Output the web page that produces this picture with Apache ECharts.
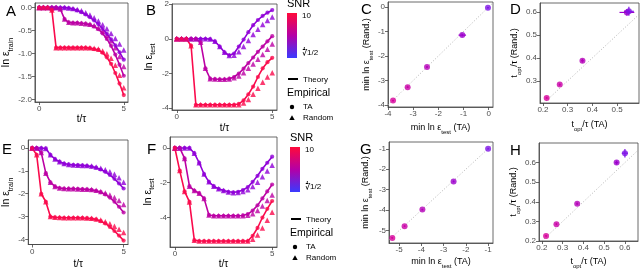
<!DOCTYPE html>
<html><head><meta charset="utf-8">
<script src="https://cdn.jsdelivr.net/npm/echarts@6.0.0/dist/echarts.min.js"></script>
<style>html,body{margin:0;padding:0;background:#fff}#c{width:640px;height:270px}</style>
</head><body><div id="c"></div><script>
// ---- data ----
const T = [0,0.25,0.5,0.75,1,1.25,1.5,1.75,2,2.25,2.5,2.75,3,3.25,3.5,3.75,4,4.25,4.5,4.75,5];

const trainA_red_TA = [0,0,0,-0.05,-0.87,-0.87,-0.87,-0.87,-0.87,-0.87,-0.87,-0.87,-0.88,-0.9,-0.92,-0.98,-1.08,-1.22,-1.42,-1.65,-1.9];
const trainA_red_R  = [0,0,0,-0.05,-0.87,-0.87,-0.87,-0.87,-0.87,-0.87,-0.87,-0.87,-0.87,-0.88,-0.9,-0.94,-1.0,-1.1,-1.25,-1.47,-1.74];
const trainA_mag_TA = [0,0,0,0,0,-0.03,-0.25,-0.32,-0.33,-0.33,-0.34,-0.35,-0.37,-0.41,-0.47,-0.56,-0.68,-0.83,-1.02,-1.24,-1.48];
const trainA_mag_R  = [0,0,0,0,0,-0.03,-0.25,-0.32,-0.33,-0.33,-0.34,-0.35,-0.36,-0.39,-0.44,-0.51,-0.6,-0.72,-0.87,-1.06,-1.28];
const trainA_pur_TA = [0,0,0,0,0,0,0,-0.01,-0.03,-0.06,-0.1,-0.15,-0.21,-0.28,-0.36,-0.46,-0.57,-0.69,-0.82,-0.97,-1.13];
const trainA_pur_R  = [0,0,0,0,0,0,0,-0.01,-0.02,-0.04,-0.07,-0.11,-0.16,-0.22,-0.29,-0.37,-0.46,-0.56,-0.67,-0.79,-0.92];

const testB_red_TA = [0,0,0,-0.4,-3.8,-3.8,-3.8,-3.8,-3.8,-3.8,-3.8,-3.8,-3.8,-3.75,-3.55,-3.2,-2.75,-2.2,-1.7,-1.35,-1.1];
const testB_red_R  = [0,0,0,-0.4,-3.8,-3.8,-3.8,-3.8,-3.8,-3.8,-3.8,-3.8,-3.8,-3.8,-3.7,-3.5,-3.2,-2.85,-2.5,-2.2,-1.95];
const testB_mag_TA = [0,0,0,0,0,-0.2,-1.7,-2.3,-2.32,-2.33,-2.33,-2.3,-2.2,-2.0,-1.72,-1.4,-1.08,-0.75,-0.45,-0.15,0.15];
const testB_mag_R  = [0,0,0,0,0,-0.2,-1.7,-2.3,-2.32,-2.33,-2.33,-2.32,-2.25,-2.15,-1.95,-1.7,-1.45,-1.18,-0.9,-0.6,-0.3];
const testB_pur_TA = [0,0,0,0,0,0,0,-0.02,-0.15,-0.45,-0.78,-0.95,-0.85,-0.45,-0.05,0.38,0.78,1.08,1.32,1.5,1.65];
const testB_pur_R  = [0,0,0,0,0,0,0,-0.02,-0.15,-0.45,-0.78,-0.97,-0.95,-0.75,-0.45,-0.1,0.25,0.55,0.82,1.05,1.25];

const trainE_red_TA = [0,-0.3,-2.0,-2.35,-3.0,-3.03,-3.04,-3.05,-3.05,-3.05,-3.05,-3.06,-3.07,-3.09,-3.12,-3.2,-3.3,-3.45,-3.63,-3.83,-4.05];
const trainE_red_R  = [0,-0.3,-2.0,-2.35,-3.0,-3.03,-3.04,-3.05,-3.05,-3.05,-3.05,-3.05,-3.06,-3.07,-3.1,-3.15,-3.22,-3.31,-3.42,-3.55,-3.7];
const trainE_mag_TA = [0,0,-0.2,-1.1,-1.5,-1.68,-1.75,-1.77,-1.78,-1.78,-1.79,-1.8,-1.81,-1.83,-1.87,-1.93,-2.03,-2.17,-2.35,-2.57,-2.82];
const trainE_mag_R  = [0,0,-0.2,-1.1,-1.5,-1.68,-1.75,-1.77,-1.78,-1.78,-1.79,-1.8,-1.8,-1.82,-1.85,-1.9,-1.97,-2.06,-2.17,-2.3,-2.47];
const trainE_pur_TA = [0,0,0,-0.02,-0.3,-0.48,-0.6,-0.68,-0.72,-0.74,-0.75,-0.76,-0.78,-0.81,-0.86,-0.94,-1.04,-1.18,-1.35,-1.55,-1.77];
const trainE_pur_R  = [0,0,0,-0.02,-0.3,-0.48,-0.6,-0.68,-0.72,-0.74,-0.75,-0.76,-0.77,-0.79,-0.83,-0.88,-0.95,-1.04,-1.15,-1.3,-1.5];

const testF_red_TA = [0,-1.3,-2.5,-3.1,-5.3,-5.35,-5.35,-5.35,-5.35,-5.35,-5.35,-5.35,-5.35,-5.35,-5.35,-5.35,-5.05,-4.6,-4.0,-3.5,-3.05];
const testF_red_R  = [0,-1.3,-2.5,-3.1,-5.3,-5.35,-5.35,-5.35,-5.35,-5.35,-5.35,-5.35,-5.35,-5.35,-5.35,-5.35,-5.25,-5.0,-4.6,-4.15,-3.7];
const testF_mag_TA = [0,0,-0.6,-2.2,-2.45,-2.6,-2.9,-3.85,-3.9,-3.9,-3.9,-3.9,-3.9,-3.9,-3.88,-3.8,-3.6,-3.3,-2.9,-2.5,-2.1];
const testF_mag_R  = [0,0,-0.6,-2.2,-2.45,-2.6,-2.9,-3.85,-3.9,-3.9,-3.9,-3.9,-3.9,-3.9,-3.9,-3.87,-3.78,-3.6,-3.33,-3.02,-2.7];
const testF_pur_TA = [0,0,0,0,-0.3,-0.85,-1.5,-1.95,-2.2,-2.35,-2.45,-2.52,-2.55,-2.52,-2.42,-2.25,-1.95,-1.6,-1.2,-0.85,-0.5];
const testF_pur_R  = [0,0,0,0,-0.3,-0.85,-1.5,-1.95,-2.2,-2.35,-2.45,-2.53,-2.57,-2.56,-2.5,-2.4,-2.22,-1.97,-1.65,-1.32,-1.0];

const cTA   = [-3.8,-3.22,-2.45,-1.05,-0.03];
const cRand = [-3.82,-3.27,-2.45,-1.15,-0.03];
const cErrX = [0.04,0.04,0.04,0.15,0.03];
const cErrY = [0.04,0.04,0.04,0.06,0.03];

const dTA   = [0.215,0.268,0.36,0.54,0.548];
const dRand = [0.226,0.284,0.388,0.598,0.603];
const dErrX = [0.004,0.004,0.006,0.03,0.02];
const dErrY = [0.004,0.005,0.008,0.015,0.02];

const gTA   = [-5.3,-4.75,-3.95,-2.55,-1.0];
const gRand = [-5.35,-4.78,-3.97,-2.6,-1.0];
const gErrX = [0.04,0.04,0.04,0.04,0.03];
const gErrY = [0.04,0.04,0.04,0.04,0.03];

const hTA   = [0.22,0.27,0.37,0.56,0.60];
const hRand = [0.226,0.286,0.39,0.60,0.648];
const hErrX = [0.004,0.004,0.005,0.008,0.015];
const hErrY = [0.004,0.005,0.006,0.01,0.022];

const ptColors = ['#D6009A','#C800A6','#B400B8','#9C00CC','#7E14E6'];
const RED = '#FA0A4C', MAG = '#BC00A4', PUR = '#9000D8';

const ticksT = [0,5];
const ticksA = [0,-0.5,-1,-1.5,-2];
const ticksB = [2,0,-2,-4];
const ticksC = [-4,-3,-2,-1,0];
const ticksDx = [0.2,0.3,0.4,0.5];
const ticksDy = [0.3,0.4,0.5,0.6];
const ticksE = [0,-1,-2,-3,-4];
const ticksF = [0,-2,-4];
const ticksG = [-5,-4,-3,-2,-1];
const ticksH = [0.2,0.3,0.4,0.5,0.6];

// ---- chart ----
const FF = '"Liberation Sans", Arial, sans-serif';
const chart = echarts.init(document.getElementById('c'), null, {renderer:'canvas'});

const grids = [
  {left:31, top:3, width:97, height:99},
  {left:172, top:3, width:105, height:107},
  {left:388, top:2, width:105, height:105},
  {left:540, top:3, width:99, height:100},
  {left:25, top:140, width:103, height:108},
  {left:170, top:137, width:107, height:113},
  {left:389, top:142, width:104, height:105},
  {left:539, top:143, width:99, height:99}
].map(g => Object.assign({show:true, borderColor:'#444', borderWidth:0.8, backgroundColor:'#fff'}, g));

function richOf(fs) {
  return {
    b:{fontSize:fs, lineHeight:fs + 5, verticalAlign:'middle', color:'#000', fontFamily:FF},
    s:{fontSize:Math.round(fs * 0.65), verticalAlign:'bottom', color:'#000', fontFamily:FF}
  };
}
function axis(gi, min, max, ticks, fmt, name, gap, fs) {
  return {
    type:'value', gridIndex:gi, min:min, max:max,
    axisLine:{show:true, onZero:false, lineStyle:{color:'#444', width:0.8}},
    axisTick:{show:true, length:3, customValues:ticks, lineStyle:{color:'#444', width:0.8}},
    axisLabel:{customValues:ticks, formatter:fmt || (v => String(v)), fontSize:8, color:'#4d4d4d', margin:3, fontFamily:FF},
    splitLine:{show:false},
    name:name, nameLocation:'middle', nameGap:gap,
    nameTextStyle:{fontSize:fs, color:'#000', fontFamily:FF, rich:richOf(fs)}
  };
}
const f1 = v => v.toFixed(1);
const tName = '{b|t/τ}';
const cX = '{b|min ln ε}{s|test}{b| (TA)}';
const cY = '{b|min ln ε}{s|test}{b| (Rand.)}';
const dX = '{b|t}{s|opt}{b|/τ (TA)}';
const dY = '{b|t}{s|opt}{b|/τ (Rand.)}';
const xAxes = [
  axis(0,-0.25,5.25,ticksT,null,tName,10,10),
  axis(1,-0.25,5.25,ticksT,null,tName,11,10),
  axis(2,-4.0,0.17,ticksC,null,cX,14,9),
  axis(3,0.188,0.589,ticksDx,f1,dX,15,9),
  axis(4,-0.21,5.24,ticksT,null,tName,12,10),
  axis(5,-0.25,5.25,ticksT,null,tName,9,10),
  axis(6,-5.45,-0.78,ticksG,null,cX,12,9),
  axis(7,0.186,0.663,ticksH,f1,dX,14,9)
];
const yAxes = [
  axis(0,-2.05,0.1,ticksA,f1,'{b|ln ε}{s|train}',15,10.5),
  axis(1,-4.1,2.0,ticksB,null,'{b|ln ε}{s|test}',15,10.5),
  axis(2,-4.08,0.2,ticksC,null,cY,12,9),
  axis(3,0.204,0.639,ticksDy,f1,dY,15,9),
  axis(4,-4.22,0.35,ticksE,null,'{b|ln ε}{s|train}',10,10.5),
  axis(5,-5.7,0.63,ticksF,null,'{b|ln ε}{s|test}',14,10.5),
  axis(6,-5.6,-0.67,ticksG,null,cY,16,9),
  axis(7,0.2,0.7,ticksH,f1,dY,15,9)
];

const series = [];
function curve(gi, color, ta, rnd) {
  series.push({type:'line', xAxisIndex:gi, yAxisIndex:gi, data:T.map((t,i)=>[t,ta[i]]), symbol:'none',
    lineStyle:{color:color, width:1.6}, z:2, silent:true});
  series.push({type:'scatter', xAxisIndex:gi, yAxisIndex:gi, data:T.map((t,i)=>[t,rnd[i]]), symbol:'triangle',
    symbolSize:5.5, itemStyle:{color:color}, z:3, silent:true});
  series.push({type:'scatter', xAxisIndex:gi, yAxisIndex:gi, data:T.map((t,i)=>[t,ta[i]]), symbol:'circle',
    symbolSize:4.2, itemStyle:{color:color}, z:4, silent:true});
}
curve(0, PUR, trainA_pur_TA, trainA_pur_R);
curve(0, MAG, trainA_mag_TA, trainA_mag_R);
curve(0, RED, trainA_red_TA, trainA_red_R);
curve(1, PUR, testB_pur_TA, testB_pur_R);
curve(1, MAG, testB_mag_TA, testB_mag_R);
curve(1, RED, testB_red_TA, testB_red_R);
curve(4, PUR, trainE_pur_TA, trainE_pur_R);
curve(4, MAG, trainE_mag_TA, trainE_mag_R);
curve(4, RED, trainE_red_TA, trainE_red_R);
curve(5, PUR, testF_pur_TA, testF_pur_R);
curve(5, MAG, testF_mag_TA, testF_mag_R);
curve(5, RED, testF_red_TA, testF_red_R);

function compare(gi, xs, ys, ex, ey) {
  const xa = xAxes[gi], ya = yAxes[gi];
  const lo = Math.max(xa.min, ya.min), hi = Math.min(xa.max, ya.max);
  series.push({type:'line', xAxisIndex:gi, yAxisIndex:gi, data:[[lo,lo],[hi,hi]], symbol:'none',
    lineStyle:{color:'#aaa', width:0.9, type:[1,2]}, z:1, silent:true});
  series.push({type:'custom', xAxisIndex:gi, yAxisIndex:gi, z:2, silent:true,
    data: xs.map((x,i)=>[x, ys[i], ex[i], ey[i]]),
    renderItem: function(params, api) {
      const x = api.value(0), y = api.value(1), dx = api.value(2), dy = api.value(3);
      const c = ptColors[params.dataIndex];
      const a = api.coord([x-dx,y]), b = api.coord([x+dx,y]), u = api.coord([x,y-dy]), w = api.coord([x,y+dy]);
      return {type:'group', children:[
        {type:'line', shape:{x1:a[0],y1:a[1],x2:b[0],y2:b[1]}, style:{stroke:c, lineWidth:1.2}},
        {type:'line', shape:{x1:u[0],y1:u[1],x2:w[0],y2:w[1]}, style:{stroke:c, lineWidth:1.2}}
      ]};
    }});
  series.push({type:'scatter', xAxisIndex:gi, yAxisIndex:gi, data:xs.map((x,i)=>[x, ys[i]]), symbol:'circle',
    symbolSize:6, itemStyle:{color: p => ptColors[p.dataIndex]}, z:3, silent:true});
}
compare(2, cTA, cRand, cErrX, cErrY);
compare(3, dTA, dRand, dErrX, dErrY);
compare(6, gTA, gRand, gErrX, gErrY);
compare(7, hTA, hRand, hErrX, hErrY);

function letter(t, x, y) {
  return {type:'text', left:x, top:y, style:{text:t, fontSize:15, fill:'#000', fontFamily:FF}};
}
function legend(x0, y0, dy) {
  const txt = (t, x, y, fs) => ({type:'text', x:x, y:y, style:{text:t, fontSize:fs, fill:'#000', fontFamily:FF, verticalAlign:'middle', align:'left'}});
  return {type:'group', x:x0, y:y0, children:[
    txt('SNR', 0, 4, 11),
    {type:'rect', shape:{x:0, y:13, width:10, height:45}, style:{fill:new echarts.graphic.LinearGradient(0,0,0,1,[
      {offset:0,color:'#ff0a3a'},{offset:0.5,color:'#b400a6'},{offset:1,color:'#3a3aff'}])}},
    txt('10', 15, 16, 8),
    txt('∜1/2', 15, 53, 8),
    {type:'line', shape:{x1:1, y1:79+dy, x2:11, y2:79+dy}, style:{stroke:'#000', lineWidth:2}},
    txt('Theory', 16, 80+dy, 8),
    txt('Empirical', 0, 93+dy, 10.5),
    {type:'circle', shape:{cx:5, cy:107+dy, r:2.2}, style:{fill:'#000'}},
    txt('TA', 16, 107+dy, 8),
    {type:'polygon', shape:{points:[[5,115.3+dy],[2.3,120+dy],[7.7,120+dy]]}, style:{fill:'#000'}},
    txt('Random', 16, 118+dy, 8)
  ]};
}

chart.setOption({
  animation:false,
  grid:grids, xAxis:xAxes, yAxis:yAxes, series:series,
  graphic:[
    letter('A',6,4), letter('B',146,3), letter('C',361,2), letter('D',510,2),
    letter('E',2,142), letter('F',147,142), letter('G',360,142), letter('H',510,143),
    legend(287,0,0), legend(290,134,6)
  ]
});
</script></body></html>
